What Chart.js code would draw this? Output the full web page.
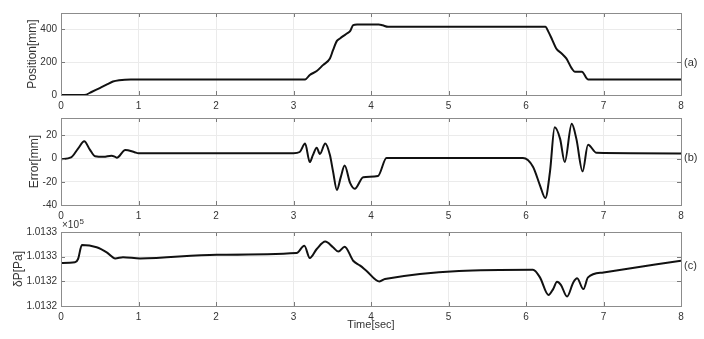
<!DOCTYPE html>
<html>
<head>
<meta charset="utf-8">
<script src="https://cdn.jsdelivr.net/npm/chart.js@4"></script>
<style>
  body { margin: 0; background: #fff; }
  .wrap { position: relative; width: 704px; height: 339px; }
  .wrap canvas { position: absolute; left: 0; top: 0; }
</style>
</head>
<body>
<div class="wrap">
  <canvas id="chartA" width="704" height="339"></canvas>
  <canvas id="chartB" width="704" height="339"></canvas>
  <canvas id="chartC" width="704" height="339"></canvas>
</div>
<script>
// (a) position [mm]
var posT = [0, 0.3, 0.4, 0.5, 0.6, 0.67, 0.75, 0.9, 1.0, 3.15, 3.21, 3.3, 3.38, 3.47, 3.51, 3.56, 3.6, 3.64, 3.69, 3.73, 3.77, 3.82, 4.1, 4.15, 4.22, 6.25, 6.29, 6.34, 6.39, 6.46, 6.52, 6.59, 6.63, 6.72, 6.8, 8];
var posV = [0, 0, 20, 42, 66, 82, 90, 95, 95, 95, 122, 146, 182, 223, 273, 330, 345, 359, 375, 389, 426, 430, 430, 425, 416, 416, 385, 335, 284, 253, 223, 162, 142, 142, 95, 95];

// (b) error [mm]
var errT = [0, 0.13, 0.22, 0.3, 0.37, 0.44, 0.55, 0.65, 0.7, 0.72, 0.83, 0.95, 1.0, 3.0, 3.08, 3.15, 3.21, 3.25, 3.3, 3.34, 3.41, 3.47, 3.51, 3.56, 3.61, 3.66, 3.73, 3.79, 3.9, 4.09, 4.2, 5.96, 6.09, 6.18, 6.25, 6.31, 6.37, 6.44, 6.5, 6.59, 6.65, 6.73, 6.8, 6.91, 8];
var errV = [-0.5, 1, 8.6, 15, 8, 2, 1.5, 2.5, 1.5, 0.8, 7.5, 5.5, 4.6, 4.6, 5.7, 13, -3, 3, 9.4, 4, 13, 3, -11, -27, -16, -6, -21, -26, -16, -15, 0.5, 0.5, -7, -23, -34, -11, 27, 17, -3, 30, 17, -11, 12, 5, 4.5];

// (c) pressure [Pa]
var presT = [0, 0.18, 0.22, 0.27, 0.46, 0.59, 0.7, 0.8, 1.02, 2.01, 3.04, 3.14, 3.21, 3.3, 3.41, 3.51, 3.58, 3.66, 3.77, 3.86, 3.94, 4.11, 4.18, 6.09, 6.18, 6.29, 6.35, 6.4, 6.45, 6.53, 6.61, 6.66, 6.74, 6.8, 7.0, 8];
var presV = [101325.49, 101325.54, 101325.81, 101326.95, 101326.76, 101326.35, 101325.86, 101325.95, 101325.86, 101326.16, 101326.3, 101326.89, 101325.89, 101326.62, 101327.22, 101326.76, 101326.41, 101326.81, 101325.67, 101325.27, 101324.86, 101323.99, 101324.19, 101324.94, 101324.32, 101322.89, 101323.37, 101323.97, 101323.72, 101322.77, 101323.91, 101324.24, 101323.37, 101324.32, 101324.72, 101325.67];

var FONT = "'Liberation Sans', Arial, sans-serif";
var TXT = "#333";

function pts(xs, ys) {
  return xs.map(function (x, i) { return {x: x, y: ys[i]}; });
}

// MATLAB-like box with inward ticks and the panel tag
var boxPlugin = {
  id: "box",
  afterDatasetsDraw: function (chart, args, opts) {
    var ctx = chart.ctx, a = chart.chartArea;
    var xs = chart.scales.x, ys = chart.scales.y;
    ctx.save();
    ctx.strokeStyle = "#7a7a7a";
    ctx.lineWidth = 1;
    ctx.beginPath();
    xs.ticks.forEach(function (t) {
      var px = Math.round(xs.getPixelForValue(t.value)) + 0.5;
      ctx.moveTo(px, a.bottom); ctx.lineTo(px, a.bottom - 4);
      ctx.moveTo(px, a.top); ctx.lineTo(px, a.top + 4);
    });
    ys.ticks.forEach(function (t) {
      var py = Math.round(ys.getPixelForValue(t.value)) + 0.5;
      ctx.moveTo(a.left, py); ctx.lineTo(a.left + 4, py);
      ctx.moveTo(a.right, py); ctx.lineTo(a.right - 4, py);
    });
    ctx.stroke();
    ctx.strokeStyle = "#8c8c8c";
    ctx.strokeRect(Math.round(a.left) + 0.5, Math.round(a.top) + 0.5,
      Math.round(a.right - a.left), Math.round(a.bottom - a.top));
    ctx.fillStyle = TXT;
    ctx.font = "11px " + FONT;
    ctx.textBaseline = "middle";
    ctx.textAlign = "left";
    ctx.fillText(opts.tag, a.right + 3, opts.tagY);
    if (opts.exp) {
      ctx.font = "10px " + FONT;
      ctx.textBaseline = "alphabetic";
      ctx.fillText("\u00d710", a.left + 1, a.top - 4);
      ctx.font = "8px " + FONT;
      ctx.fillText("5", a.left + 18.5, a.top - 8);
    }
    ctx.restore();
  }
};

function makeChart(id, xs, ys, cfg) {
  return new Chart(document.getElementById(id), {
    type: "line",
    data: {
      datasets: [{
        data: pts(xs, ys),
        borderColor: "#111",
        borderWidth: 2,
        pointRadius: 0,
        cubicInterpolationMode: "monotone",
        fill: false
      }]
    },
    options: {
      responsive: false,
      animation: false,
      devicePixelRatio: 1,
      layout: { padding: { left: 0, right: 23, top: cfg.top, bottom: cfg.bottom } },
      plugins: {
        legend: { display: false },
        tooltip: { enabled: false },
        box: { tag: cfg.tag, tagY: cfg.tagY, exp: cfg.exp }
      },
      scales: {
        x: {
          type: "linear",
          min: 0, max: 8,
          ticks: { stepSize: 1, padding: 5, color: TXT, font: { family: FONT, size: 10 } },
          grid: { color: "#ebebeb", drawTicks: false },
          border: { display: false },
          title: cfg.xTitle ? {
            display: true, text: cfg.xTitle, color: TXT,
            font: { family: FONT, size: 11 }, padding: { top: 0, bottom: 7 }
          } : { display: false },
          afterFit: function (s) { s.height = cfg.xH; }
        },
        y: {
          min: cfg.min, max: cfg.max,
          ticks: {
            stepSize: cfg.step, includeBounds: false, padding: 4, color: TXT,
            font: { family: FONT, size: 10 },
            callback: cfg.fmt || function (v) { return v; }
          },
          grid: { color: "#ebebeb", drawTicks: false },
          border: { display: false },
          title: {
            display: true, text: cfg.yTitle, color: TXT,
            font: { family: FONT, size: 12 }, padding: { top: cfg.yPad, bottom: 0 }
          },
          afterFit: function (s) { s.width = 61; }
        }
      }
    },
    plugins: [boxPlugin]
  });
}

makeChart("chartA", posT, posV, {
  top: 13, bottom: 224, xH: 20, min: 0, max: 500, step: 200,
  yTitle: "Position[mm]", yPad: 25, tag: "(a)", tagY: 63
});

makeChart("chartB", errT, errV, {
  top: 118, bottom: 114, xH: 20, min: -40, max: 35, step: 20,
  yTitle: "Error[mm]", yPad: 27, tag: "(b)", tagY: 158
});

makeChart("chartC", presT, presV, {
  top: 232, bottom: 0, xH: 33, min: 101322, max: 101328, step: 2,
  yTitle: "\u03b4P[Pa]", yPad: 11, tag: "(c)", tagY: 266, exp: true,
  xTitle: "Time[sec]",
  fmt: function (v) { return (v / 1e5).toFixed(4); }
});
</script>
</body>
</html>
